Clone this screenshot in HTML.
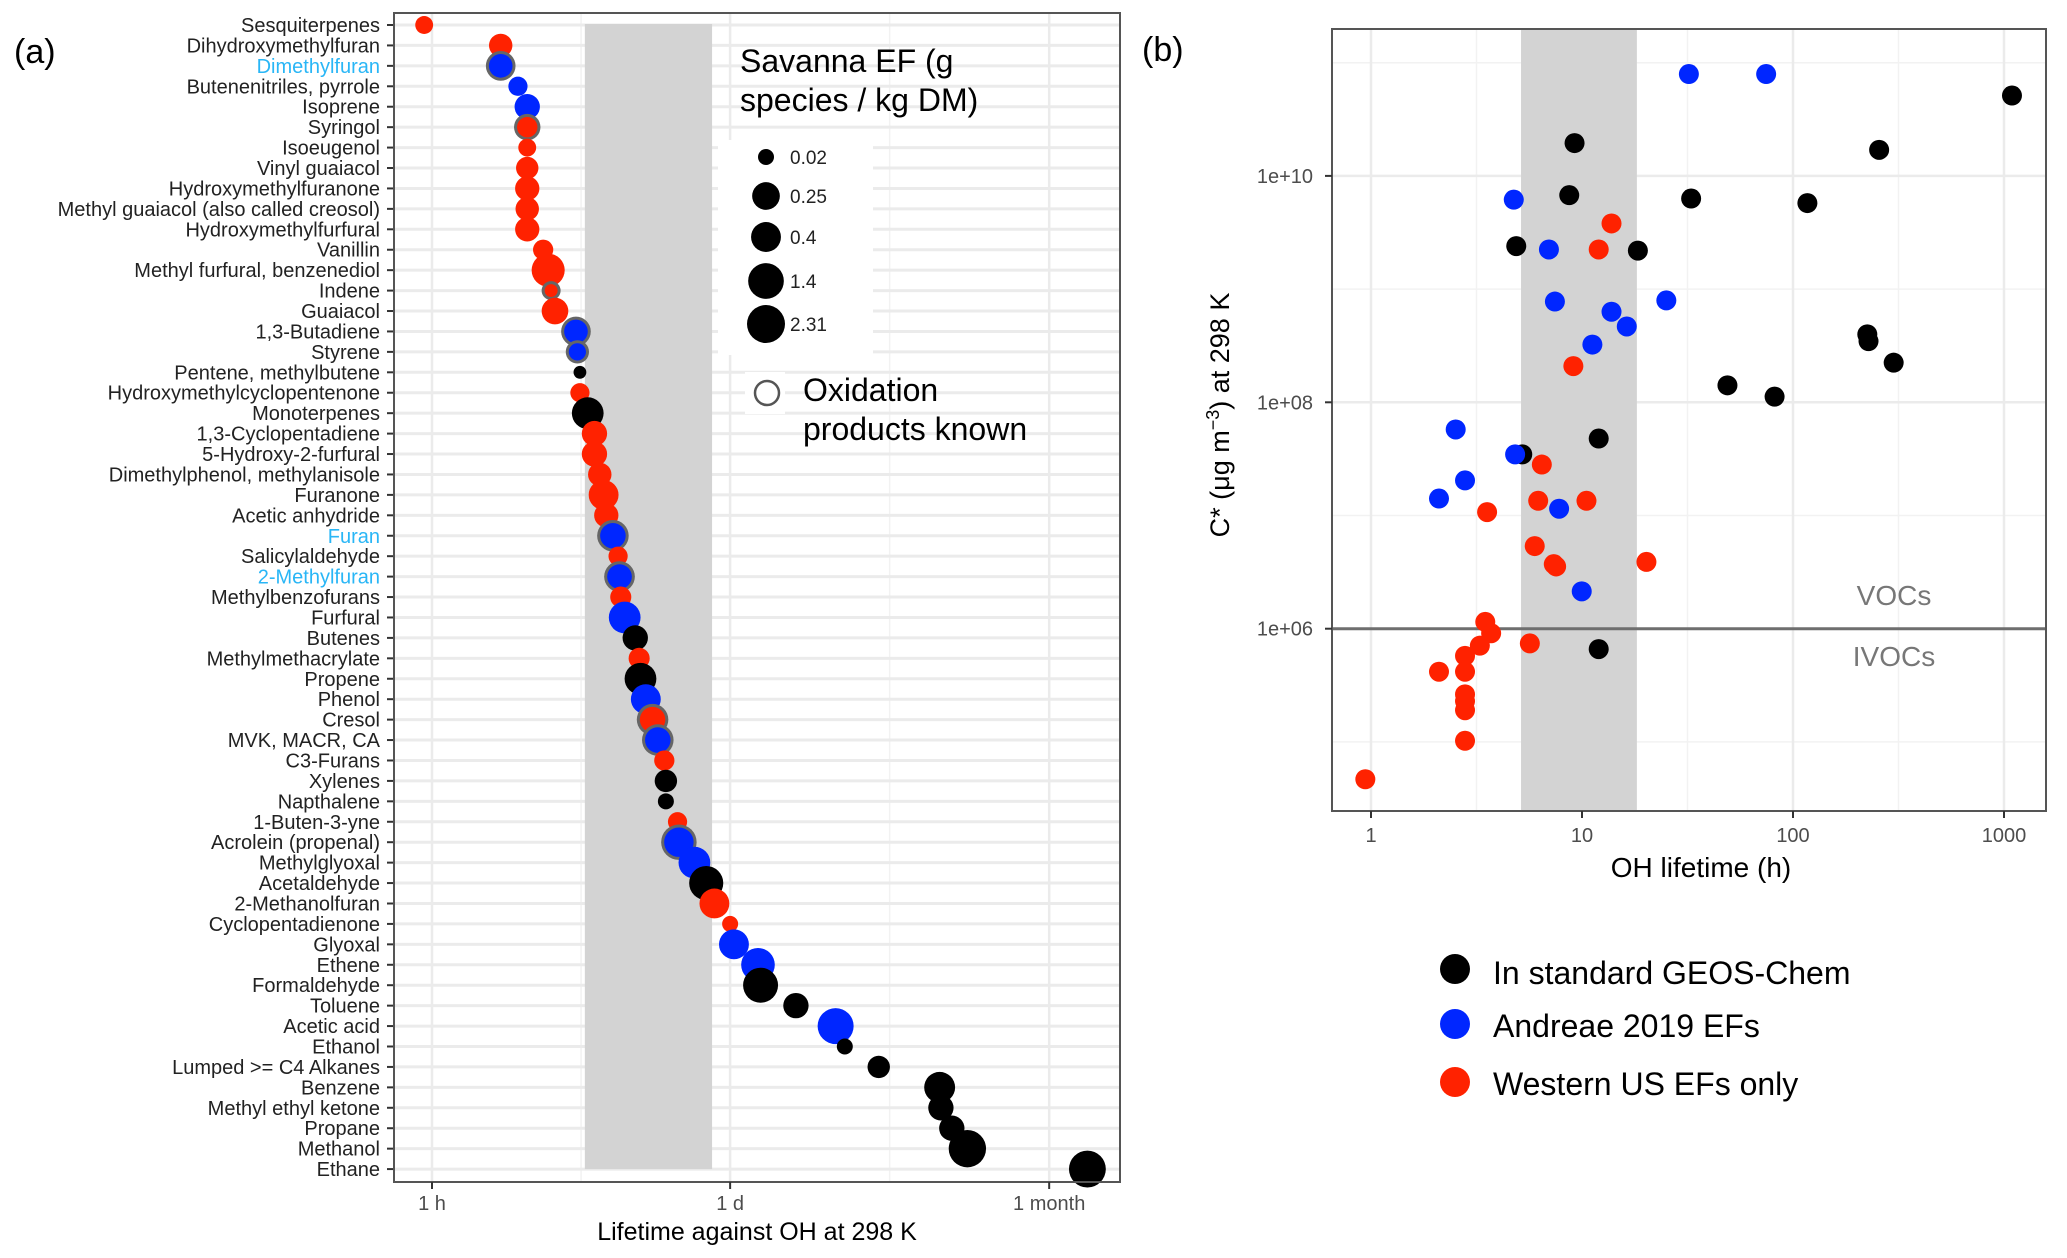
<!DOCTYPE html>
<html><head><meta charset="utf-8"><style>
html,body{margin:0;padding:0;background:#fff;}
svg{display:block;font-family:"Liberation Sans",Arial,sans-serif;}
</style></head><body>
<svg id="fig" width="2067" height="1258" viewBox="0 0 2067 1258" xmlns="http://www.w3.org/2000/svg">
<rect width="2067" height="1258" fill="#fff"/>
<text x="14" y="63" font-size="34">(a)</text>
<text x="1142" y="61" font-size="34">(b)</text>
<g id="pa"></g>
<g id="pb"></g>
<g>
  <circle cx="1455" cy="969" r="15" fill="#000"/>
  <text x="1493" y="984" font-size="32">In standard GEOS-Chem</text>
  <circle cx="1455" cy="1024" r="15" fill="#0026ff"/>
  <text x="1493" y="1037" font-size="32">Andreae 2019 EFs</text>
  <circle cx="1455" cy="1082" r="15" fill="#ff2200"/>
  <text x="1493" y="1095" font-size="32">Western US EFs only</text>
</g>
</svg>
<script>
// ---------- Panel (a) data ----------
const speciesNames = ["Sesquiterpenes","Dihydroxymethylfuran","Dimethylfuran","Butenenitriles, pyrrole","Isoprene","Syringol","Isoeugenol","Vinyl guaiacol","Hydroxymethylfuranone","Methyl guaiacol (also called creosol)","Hydroxymethylfurfural","Vanillin","Methyl furfural, benzenediol","Indene","Guaiacol","1,3-Butadiene","Styrene","Pentene, methylbutene","Hydroxymethylcyclopentenone","Monoterpenes","1,3-Cyclopentadiene","5-Hydroxy-2-furfural","Dimethylphenol, methylanisole","Furanone","Acetic anhydride","Furan","Salicylaldehyde","2-Methylfuran","Methylbenzofurans","Furfural","Butenes","Methylmethacrylate","Propene","Phenol","Cresol","MVK, MACR, CA","C3-Furans","Xylenes","Napthalene","1-Buten-3-yne","Acrolein (propenal)","Methylglyoxal","Acetaldehyde","2-Methanolfuran","Cyclopentadienone","Glyoxal","Ethene","Formaldehyde","Toluene","Acetic acid","Ethanol","Lumped >= C4 Alkanes","Benzene","Methyl ethyl ketone","Propane","Methanol","Ethane"];
const lifetimeHours = [0.92,2.08,2.08,2.5,2.76,2.76,2.76,2.76,2.76,2.76,2.76,3.27,3.45,3.56,3.71,4.64,4.71,4.84,4.84,5.26,5.65,5.65,5.98,6.23,6.41,6.88,7.27,7.38,7.48,7.8,8.73,9.1,9.23,9.77,10.5,11.1,11.9,12.1,12.1,13.7,13.9,16.4,18.6,20.3,24.0,25.0,32.3,33.2,48.4,73.9,81.5,117,224,227,255,301,1082];
const speciesGroup = ["r","r","b","b","b","r","r","r","r","r","r","r","r","r","r","b","b","k","r","k","r","r","r","r","r","b","r","b","r","b","k","r","k","b","r","b","r","k","k","r","b","b","k","r","r","b","b","k","k","b","k","k","k","k","k","k","k"];
const savannaEF = [0.03,0.1,0.2,0.04,0.15,0.1,0.03,0.08,0.12,0.1,0.12,0.05,0.8,0.02,0.2,0.2,0.05,0.01,0.04,0.6,0.15,0.15,0.1,0.4,0.12,0.3,0.04,0.25,0.06,0.6,0.15,0.06,0.6,0.4,0.3,0.3,0.05,0.08,0.02,0.04,0.7,0.6,1.0,0.4,0.02,0.4,0.9,1.2,0.15,1.5,0.02,0.08,0.5,0.15,0.15,2.0,1.8];
const oxKnown = [0,0,1,0,0,1,0,0,0,0,0,0,0,1,0,1,1,0,0,0,0,0,0,0,0,1,0,1,0,0,0,0,0,0,1,1,0,0,0,0,1,0,0,0,0,0,0,0,0,0,0,0,0,0,0,0,0];
const highlightLabels = ["Dimethylfuran","Furan","2-Methylfuran"];
const xTickLabelsA = ["1 h","1 d","1 month"];
const xTickHoursA = [1,24,720];
const legendEF = [0.02,0.25,0.4,1.4,2.31];
const bandA = [5.1,19.8];

// ---------- Panel (b) data ----------
const bBlueH = [32.1,74.6,4.75,6.97,7.44,13.8,16.3,11.2,25.1,2.52,4.82,2.79,2.10,7.79,9.97];
const bBlueLogC = [10.90,10.90,9.79,9.35,8.89,8.80,8.67,8.51,8.90,7.76,7.54,7.31,7.15,7.06,6.33];
const bBlackH = [1091,9.22,256,8.70,32.9,117,4.88,18.4,225,228,300,48.9,81.8,12.0,5.21,12.0];
const bBlackLogC = [10.71,10.29,10.23,9.83,9.80,9.76,9.38,9.34,8.60,8.54,8.35,8.15,8.05,7.68,7.54,5.82];
const bRedH = [13.8,12.0,9.10,6.45,6.20,10.5,3.55,5.97,7.35,7.54,20.2,3.48,3.71,3.28,5.66,2.79,2.10,2.79,2.79,2.79,2.79,2.79,0.94];
const bRedLogC = [9.58,9.35,8.32,7.45,7.13,7.13,7.03,6.73,6.57,6.55,6.59,6.06,5.96,5.85,5.87,5.76,5.62,5.62,5.42,5.36,5.28,5.01,4.67];
const xTicksB = [1,10,100,1000];
const xTickLabelsB = ["1","10","100","1000"];
const yTicksB = [10,8,6];
const yTickLabelsB = ["1e+10","1e+08","1e+06"];
const bandB = [5.14,18.2];

const NS="http://www.w3.org/2000/svg";
const COL={r:"#ff2200",b:"#0026ff",k:"#000000"};
function mk(parent,tag,attrs,text){const e=document.createElementNS(NS,tag);for(const k in attrs)e.setAttribute(k,attrs[k]);if(text!==undefined)e.textContent=text;parent.appendChild(e);return e;}

// ===== Panel A =====
const pa=document.getElementById('pa');
const aL=394,aR=1120,aT=13,aB=1182;
const xA=h=>432+216*Math.log10(h);
const yA=i=>25+i*20.43;
const rA=v=>8+11*(Math.log(v)-Math.log(0.02))/(Math.log(2.31)-Math.log(0.02));
let r0=mk(pa,'rect',{x:aL,y:aT,width:aR-aL,height:aB-aT,fill:'#fff'});


[Math.sqrt(1*24),Math.sqrt(24*720)].forEach(h=>{const l=mk(pa,'line',{x1:xA(h),x2:xA(h),y1:aT,y2:aB,stroke:'#f2f2f2','stroke-width':1.5});

});
xTickHoursA.forEach(h=>{const l=mk(pa,'line',{x1:xA(h),x2:xA(h),y1:aT,y2:aB,stroke:'#ebebeb','stroke-width':2.5});

});
speciesNames.forEach((n,i)=>{const l=mk(pa,'line',{x1:aL,x2:aR,y1:yA(i),y2:yA(i),stroke:'#ebebeb','stroke-width':3});

});
let band=mk(pa,'rect',{x:xA(bandA[0]),y:yA(0)-1,width:xA(bandA[1])-xA(bandA[0]),height:yA(speciesNames.length-1)-yA(0)+1,fill:'#d3d3d3'});


let lb=mk(pa,'rect',{x:718,y:140,width:155,height:215,fill:'#fff'});


let lb2=mk(pa,'rect',{x:745,y:372,width:40,height:42,fill:'#fff'});


speciesNames.forEach((n,i)=>{
  const cx=xA(lifetimeHours[i]),cy=yA(i),r=rA(savannaEF[i]);
  if(oxKnown[i]){const o=mk(pa,'circle',{cx:cx,cy:cy,r:r+1.5,fill:'#666'});
    
    }
  const c=mk(pa,'circle',{cx:cx,cy:cy,r:oxKnown[i]?r-1.5:r,fill:COL[speciesGroup[i]]});
  
  
  const t=mk(pa,'text',{x:380,y:cy+7,'font-size':20,'text-anchor':'end',fill:highlightLabels.includes(n)?'#29b6f6':'#222'},n);
  
  
  const tk=mk(pa,'line',{x1:387,x2:394,y1:cy,y2:cy,stroke:'#333','stroke-width':2});
  
  
});
let bd=mk(pa,'rect',{x:aL,y:aT,width:aR-aL,height:aB-aT,fill:'none',stroke:'#555','stroke-width':2});


xTickHoursA.forEach((h,i)=>{
  const tk=mk(pa,'line',{x1:xA(h),x2:xA(h),y1:aB,y2:aB+7,stroke:'#333','stroke-width':2});
  
  
  const t=mk(pa,'text',{x:xA(h),y:1210,'font-size':20,'text-anchor':'middle',fill:'#4d4d4d'},xTickLabelsA[i]);
  
  
});
let xt=mk(pa,'text',{x:757,y:1240,'font-size':25,'text-anchor':'middle',fill:'#000'},'Lifetime against OH at 298 K');


let lt1=mk(pa,'text',{x:740,y:72,'font-size':32},'Savanna EF (g');


let lt2=mk(pa,'text',{x:740,y:111,'font-size':32},'species / kg DM)');


const legY=[157,196,237,281,324];
legendEF.forEach((v,i)=>{
  const c=mk(pa,'circle',{cx:766,cy:legY[i],r:rA(v),fill:'#000'});
  
  
  const t=mk(pa,'text',{x:790,y:legY[i]+7,'font-size':19,fill:'#222'},String(v));
  
  
});
let oc=mk(pa,'circle',{cx:767,cy:393,r:12,fill:'#fff',stroke:'#555','stroke-width':2.5});


let ot1=mk(pa,'text',{x:803,y:401,'font-size':32},'Oxidation');


let ot2=mk(pa,'text',{x:803,y:440,'font-size':32},'products known');



// ===== Panel B =====
const pb=document.getElementById('pb');
const bL=1332,bR=2046,bT=29,bB=811;
const xB=h=>1371+211*Math.log10(h);
const yB=lc=>628.7-113.2*(lc-6);
[11,9,7,5].forEach(lc=>{const l=mk(pb,'line',{x1:bL,x2:bR,y1:yB(lc),y2:yB(lc),stroke:'#f2f2f2','stroke-width':1.5});

});
[Math.sqrt(10),Math.sqrt(1000),Math.sqrt(100000)].forEach(h=>{const l=mk(pb,'line',{x1:xB(h),x2:xB(h),y1:bT,y2:bB,stroke:'#f2f2f2','stroke-width':1.5});

});
yTicksB.forEach(lc=>{const l=mk(pb,'line',{x1:bL,x2:bR,y1:yB(lc),y2:yB(lc),stroke:'#ebebeb','stroke-width':2.5});

});
xTicksB.forEach(h=>{const l=mk(pb,'line',{x1:xB(h),x2:xB(h),y1:bT,y2:bB,stroke:'#ebebeb','stroke-width':2.5});

});
let bb=mk(pb,'rect',{x:xB(bandB[0]),y:bT,width:xB(bandB[1])-xB(bandB[0]),height:bB-bT,fill:'#d3d3d3'});


let hl=mk(pb,'line',{x1:bL,x2:bR,y1:yB(6),y2:yB(6),stroke:'#6e6e6e','stroke-width':3});


let vt=mk(pb,'text',{x:1894,y:605,'font-size':28,'text-anchor':'middle',fill:'#777'},'VOCs');


let it=mk(pb,'text',{x:1894,y:666,'font-size':28,'text-anchor':'middle',fill:'#777'},'IVOCs');


function series(hs,lcs,color,name){hs.forEach((h,i)=>{const c=mk(pb,'circle',{cx:xB(h),cy:yB(lcs[i]),r:10,fill:color});

});}
series(bBlackH,bBlackLogC,COL.k,'point-geos-chem');
series(bBlueH,bBlueLogC,COL.b,'point-andreae');
series(bRedH,bRedLogC,COL.r,'point-western-us');
let bbd=mk(pb,'rect',{x:bL,y:bT,width:bR-bL,height:bB-bT,fill:'none',stroke:'#555','stroke-width':2});


xTicksB.forEach((h,i)=>{
  const tk=mk(pb,'line',{x1:xB(h),x2:xB(h),y1:bB,y2:bB+7,stroke:'#333','stroke-width':2});
  
  
  const t=mk(pb,'text',{x:xB(h),y:842,'font-size':20,'text-anchor':'middle',fill:'#4d4d4d'},xTickLabelsB[i]);
  
  
});
yTicksB.forEach((lc,i)=>{
  const tk=mk(pb,'line',{x1:bL-7,x2:bL,y1:yB(lc),y2:yB(lc),stroke:'#333','stroke-width':2});
  
  
  const t=mk(pb,'text',{x:1313,y:yB(lc)+7,'font-size':20,'text-anchor':'end',fill:'#4d4d4d'},yTickLabelsB[i]);
  
  
});
let bxt=mk(pb,'text',{x:1701,y:877,'font-size':28,'text-anchor':'middle'},'OH lifetime (h)');


let byt=mk(pb,'text',{x:0,y:0,'font-size':27,'text-anchor':'middle',transform:'translate(1229,415) rotate(-90)'});


byt.innerHTML='C* (μg m<tspan dy="-10" font-size="18">−3</tspan><tspan dy="10">) at 298 K</tspan>';
</script>
</body></html>
